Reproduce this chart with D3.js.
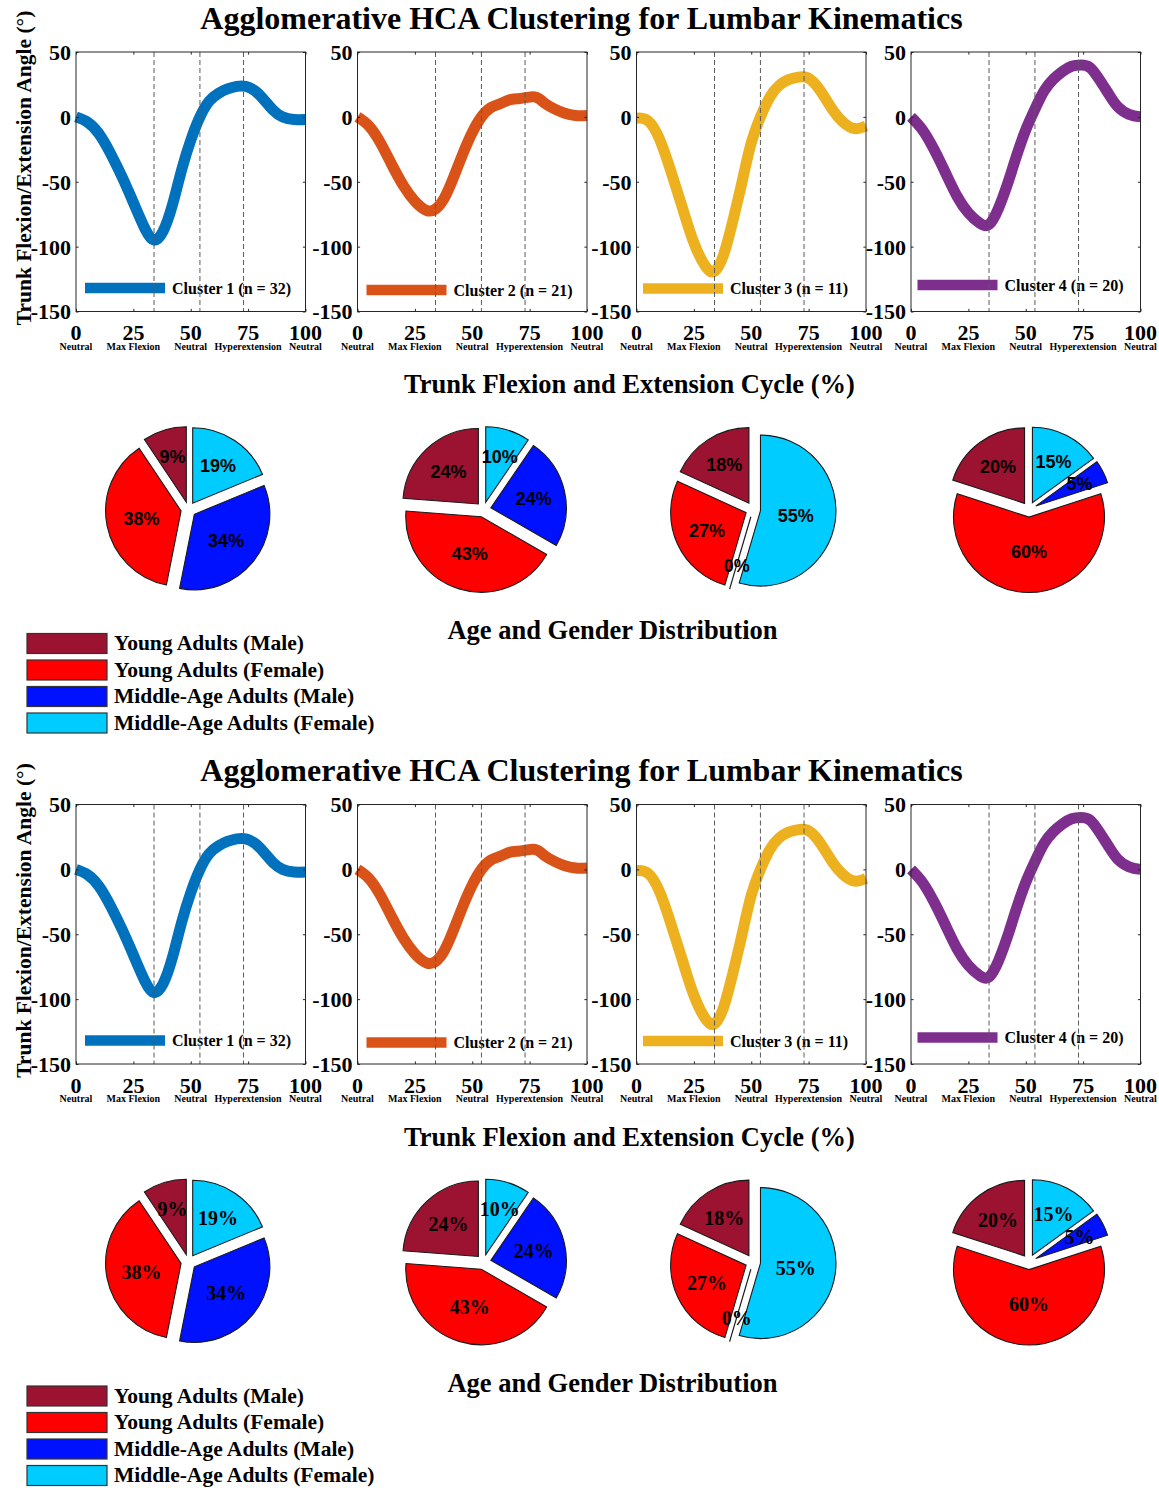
<!DOCTYPE html>
<html>
<head>
<meta charset="utf-8">
<script src="https://cdn.jsdelivr.net/npm/d3@7"></script>
<style>
  html, body { margin: 0; padding: 0; background: #fff; }
  svg { display: block; }
  text { font-family: "Liberation Serif", "Times New Roman", serif; font-weight: bold; fill: #000; }
</style>
</head>
<body>
<svg id="fig" width="1159" height="1488"></svg>
<script>
// ---- data -------------------------------------------------------------
// percent of the trunk flexion / extension cycle at which each mean curve is sampled
const cyclePct = [0, 5, 10, 15, 20, 25, 30, 34, 38, 42, 46, 50, 54, 58, 62, 66, 70, 74, 78, 82, 86, 90, 95, 100];

// mean trunk angle (degrees) per cluster
const cluster1Angle = [0, -4, -13, -28, -46, -66, -86, -95, -88, -68, -41, -18, 0, 12, 18, 21.5, 23.5, 23.5, 20, 13, 5, 0, -2, -2];
const cluster2Angle = [0, -7, -20, -37, -53, -65, -72, -71, -62, -46, -28, -12, 0, 7, 10, 13, 14, 15, 15, 10, 6, 3, 1, 1];
const cluster3Angle = [-1, -3, -17, -42, -70, -97, -115, -119, -106, -80, -50, -20, 0, 15, 24, 28.5, 30.5, 30.5, 25, 15, 4, -4, -9, -7];
const cluster4Angle = [0, -10, -25, -43, -61, -74, -82, -83, -71, -52, -30, -10, 6, 20, 29, 35, 39, 40, 38, 29, 18, 8, 2, 0];

const clusterLabels = ["Cluster 1", "Cluster 2", "Cluster 3", "Cluster 4"];

// x ticks with the movement phase under each
const cycleTicks = [0, 25, 50, 75, 100];
const phaseNames = ["Neutral", "Max Flexion", "Neutral", "Hyperextension", "Neutral"];
// phase boundaries marked with dashed lines
const phaseMarkers = [34, 54, 73];
const angleTicks = [50, 0, -50, -100, -150];

// age / gender composition (participant counts) of each cluster
const groupNames = ["Young Adults (Male)", "Young Adults (Female)", "Middle-Age Adults (Male)", "Middle-Age Adults (Female)"];
const cluster1Counts = [3, 12, 11, 6];
const cluster2Counts = [5, 9, 5, 2];
const cluster3Counts = [2, 3, 0, 6];
const cluster4Counts = [4, 12, 1, 3];

// ---- styling / layout ---------------------------------------------------
const curveColors = ["#0072BD", "#D95319", "#EDB120", "#7E2F8E"];
const groupColors = ["#9B1330", "#FF0000", "#0011FF", "#00CCFF"];

const curves = [cluster1Angle, cluster2Angle, cluster3Angle, cluster4Angle];
const counts = [cluster1Counts, cluster2Counts, cluster3Counts, cluster4Counts];

const axLeft = [76, 357.5, 636.5, 911];
const axW = 229.5, axTop = 52, axBottom = 311.5;
const legendDx = [9, 9, 6.5, 6.5];
const legendY = [288, 290, 288.5, 285];
const pieCx = [188.5, 483.5, 753, 1029];
const pieCy = 509.5, pieR = 75.5;
const explode = 0.1 * pieR;
const halves = [
  { dy: 0,     pieFont: '"Liberation Sans", Arial, sans-serif', pieSize: 18 },
  { dy: 752.5, pieFont: '"Liberation Serif", "Times New Roman", serif', pieSize: 20 }
];

const svg = d3.select("#fig");

function drawHalf(h) {
  const g = svg.append("g").attr("transform", `translate(0,${h.dy})`);

  g.append("text").attr("x", 581.5).attr("y", 28.5).attr("text-anchor", "middle")
    .style("font-size", "32px").text("Agglomerative HCA Clustering for Lumbar Kinematics");

  g.append("text").attr("transform", "translate(31,168) rotate(-90)").attr("text-anchor", "middle")
    .style("font-size", "21.5px").text("Trunk Flexion/Extension Angle (°)");

  g.append("text").attr("x", 629.5).attr("y", 393).attr("text-anchor", "middle")
    .style("font-size", "26.5px").text("Trunk Flexion and Extension Cycle (%)");

  g.append("text").attr("x", 612.5).attr("y", 639).attr("text-anchor", "middle")
    .style("font-size", "26.5px").text("Age and Gender Distribution");

  // ---- line panels ----
  curves.forEach((vals, i) => {
    const x = d3.scaleLinear().domain([0, 100]).range([axLeft[i], axLeft[i] + axW]);
    const y = d3.scaleLinear().domain([-150, 50]).range([axBottom, axTop]);
    const p = g.append("g");
    const n = d3.sum(counts[i]);

    const line = d3.line().x((d, k) => x(cyclePct[k])).y(d => y(d)).curve(d3.curveNatural);
    p.append("path").datum(vals).attr("d", line)
      .attr("fill", "none").attr("stroke", curveColors[i]).attr("stroke-width", 11)
      .attr("stroke-linejoin", "round");

    // legend entry
    const lx = axLeft[i] + legendDx[i], ly = legendY[i];
    p.append("line").attr("x1", lx).attr("x2", lx + 80).attr("y1", ly).attr("y2", ly)
      .attr("stroke", curveColors[i]).attr("stroke-width", 10.5);
    p.append("text").attr("x", lx + 87).attr("y", ly + 5.5).style("font-size", "16px")
      .text(`${clusterLabels[i]} (n = ${n})`);

    // phase boundaries
    p.selectAll("line.phase").data(phaseMarkers).join("line").attr("class", "phase")
      .attr("x1", d => x(d)).attr("x2", d => x(d)).attr("y1", axTop).attr("y2", axBottom)
      .attr("stroke", "#5a5a5a").attr("stroke-width", 1).attr("stroke-dasharray", "5,3");

    // box with inward ticks on all four sides
    p.append("rect").attr("x", axLeft[i]).attr("y", axTop).attr("width", axW).attr("height", axBottom - axTop)
      .attr("fill", "none").attr("stroke", "#262626").attr("stroke-width", 1);
    const tl = 2.6;
    const axB = p.append("g").attr("transform", `translate(0,${axBottom})`)
      .call(d3.axisBottom(x).tickValues(cycleTicks).tickSize(-tl).tickFormat(""));
    const axT = p.append("g").attr("transform", `translate(0,${axTop})`)
      .call(d3.axisTop(x).tickValues(cycleTicks).tickSize(-tl).tickFormat(""));
    const axL = p.append("g").attr("transform", `translate(${axLeft[i]},0)`)
      .call(d3.axisLeft(y).tickValues(angleTicks).tickSize(-tl).tickFormat(""));
    const axR = p.append("g").attr("transform", `translate(${axLeft[i] + axW},0)`)
      .call(d3.axisRight(y).tickValues(angleTicks).tickSize(-tl).tickFormat(""));
    [axB, axT, axL, axR].forEach(a => {
      a.select(".domain").remove();
      a.selectAll(".tick line").attr("stroke", "#262626");
    });

    // tick labels
    p.selectAll("text.ytk").data(angleTicks).join("text").attr("class", "ytk")
      .attr("x", axLeft[i] - 5).attr("y", d => y(d)).attr("dy", "0.36em")
      .attr("text-anchor", "end").style("font-size", "22px").text(d => d);
    p.selectAll("text.xtk").data(cycleTicks).join("text").attr("class", "xtk")
      .attr("x", d => x(d)).attr("y", 340).attr("text-anchor", "middle")
      .style("font-size", "22px").text(d => d);
    p.selectAll("text.ph").data(cycleTicks).join("text").attr("class", "ph")
      .attr("x", d => x(d)).attr("y", 349.5).attr("text-anchor", "middle")
      .style("font-size", "10px").text((d, k) => phaseNames[k]);
  });

  // ---- pies ----
  const pie = d3.pie().sort(null).value(d => d).startAngle(0).endAngle(-2 * Math.PI);
  const arc = d3.arc().innerRadius(0).outerRadius(pieR);
  counts.forEach((c, i) => {
    const total = d3.sum(c);
    const pg = g.append("g").attr("transform", `translate(${pieCx[i]},${pieCy})`);
    const slices = pie(c);
    slices.forEach((s, k) => {
      const mid = (s.startAngle + s.endAngle) / 2;
      const ox = Math.sin(mid) * explode, oy = -Math.cos(mid) * explode;
      const sg = pg.append("g").attr("transform", `translate(${ox},${oy})`);
      if (s.value === 0) {
        sg.append("line").attr("x1", 0).attr("y1", 0)
          .attr("x2", Math.sin(mid) * pieR).attr("y2", -Math.cos(mid) * pieR)
          .attr("stroke", "#1a1a1a").attr("stroke-width", 1.2);
      } else {
        sg.append("path").attr("d", arc(s)).attr("fill", groupColors[k])
          .attr("stroke", "#1a1a1a").attr("stroke-width", 1.1);
      }
    });
    slices.forEach((s, k) => {
      const mid = (s.startAngle + s.endAngle) / 2;
      const frac = s.value / total;
      const r = explode + pieR * (0.668 - 0.358 * frac);
      pg.append("text").attr("x", Math.sin(mid) * r).attr("y", -Math.cos(mid) * r)
        .attr("dy", "0.36em").attr("text-anchor", "middle")
        .style("font-family", h.pieFont).style("font-size", h.pieSize + "px")
        .text(Math.round(frac * 100) + "%");
    });
  });

  // ---- group legend ----
  const leg = g.append("g");
  groupNames.forEach((name, k) => {
    const top = 633.5 + k * 26.5;
    leg.append("rect").attr("x", 27).attr("y", top).attr("width", 80).attr("height", 20)
      .attr("fill", groupColors[k]).attr("stroke", "#333").attr("stroke-width", 1.2);
    leg.append("text").attr("x", 114).attr("y", top + 16.5).style("font-size", "21.5px").text(name);
  });
}

halves.forEach(drawHalf);
</script>
</body>
</html>
